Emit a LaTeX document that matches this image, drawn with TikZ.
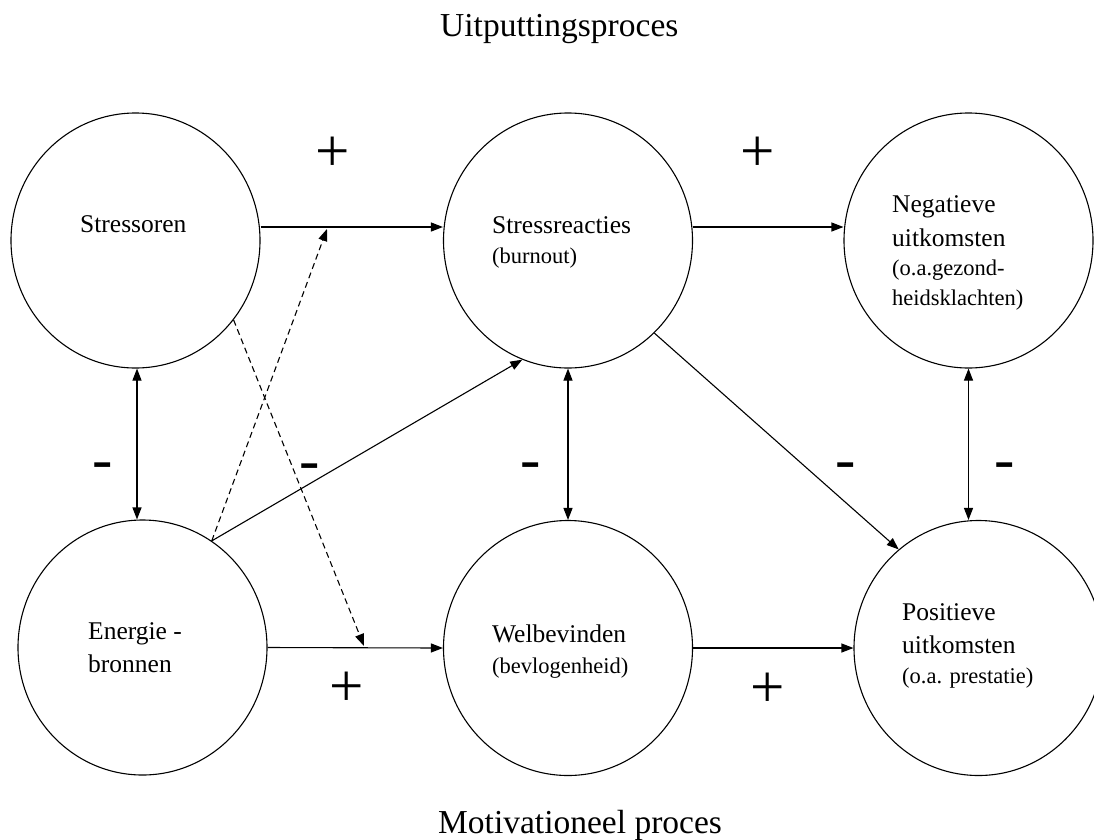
\documentclass[tikz,border=0pt]{standalone}
\usepackage{fontspec}
\setmainfont{Liberation Serif}
\usetikzlibrary{arrows.meta,shapes.geometric,calc}
\begin{document}
\begin{tikzpicture}[x=1pt,y=-1pt,
  bub/.style={ellipse,draw,line width=1.1pt,minimum width=249pt,minimum height=255pt,inner sep=0pt},
  big/.style={font=\fontsize{25.5}{30}\selectfont,anchor=base west,inner sep=0pt},
  small/.style={font=\fontsize{22.5}{27}\selectfont,anchor=base west,inner sep=0pt},
  plussign/.style={font=\fontsize{61}{61}\selectfont,inner sep=0pt},
  minussign/.style={font=\fontsize{61}{61}\selectfont,inner sep=0pt,anchor=base},
  arr/.style={line width=1.1pt,-{Triangle[length=12pt,width=9pt]}},
  darr/.style={line width=1.1pt,{Triangle[length=12pt,width=9pt]}-{Triangle[length=12pt,width=9pt]}},
  dsh/.style={arr,dash pattern=on 6pt off 4pt},
  ttl/.style={font=\fontsize{33.5}{40}\selectfont,anchor=base west,inner sep=0pt}]
\useasboundingbox[fill=white] (0,0) rectangle (1094,839);

% circles
\node[bub] (S) at (135.5,240.5) {};
\node[bub] (R) at (568,240.5) {};
\node[bub] (N) at (968.5,240.5) {};
\node[bub] (E) at (142.5,647.5) {};
\node[bub] (W) at (568,648) {};
\node[bub] (P) at (978.5,648) {};

% texts
\node[big] (tS) at (80,232) {Stressoren};
\node[big] (tR1) at (492,233) {Stressreacties};
\node[small] (tR2) at (492,263) {(burnout)};
\node[big] (tN1) at (892,212) {Negatieve};
\node[big] (tN2) at (892,246) {uitkomsten};
\node[small] (tN3) at (892,275) {(o.a.gezond-};
\node[small] (tN4) at (892,305) {heidsklachten)};
\node[big] (tE1) at (88,639) {Energie -};
\node[big] (tE2) at (88,672) {bronnen};
\node[big] (tW1) at (492,642) {Welbevinden};
\node[small] (tW2) at (492,673) {(bevlogenheid)};
\node[big] (tP1) at (902,620) {Positieve};
\node[big] (tP2) at (902,653) {uitkomsten};
\node[small] (tP3) at (902,683) {(o.a. prestatie)};

% titles
\node[ttl] (t1) at (440,36) {Uitputtingsproces};
\node[ttl] (t2) at (438,833) {Motivationeel proces};

% signs
\node[plussign] (p1) at (333,154) {+};
\node[plussign] (p2) at (758,154) {+};
\node[plussign] (p3) at (347,689) {+};
\node[plussign] (p4) at (768,690) {+};
\node[minussign] (m1) at (103,479) {-};
\node[minussign] (m2) at (310,480) {-};
\node[minussign] (m3) at (531,479) {-};
\node[minussign] (m4) at (846,479) {-};
\node[minussign] (m5) at (1005,479) {-};

% connectors
\draw[arr] ([yshift=13.5pt]S.east) -- ([yshift=13.5pt]R.west);
\draw[arr] ([yshift=13.5pt]R.east) -- ([yshift=13.5pt]N.west);
\draw[arr] (E.east) -- (W.west);
\draw[arr] (W) -- (P);
\draw[darr] ([xshift=1.5pt]S.south) -- ([xshift=1.5pt]S.south |- E.north);
\draw[darr] (R.south) -- (W.north);
\draw[darr] (N.south) -- (N.south |- P.north);
\draw[arr] (E.57) -- (R.249);
\draw[arr] (R.313) -- (P.129);
\coordinate (d1) at (327,229);
\coordinate (d2) at (364,646);
\draw[dsh] (E.57) -- (d1);
\draw[dsh] (S.321) -- (d2);
\end{tikzpicture}
\end{document}
